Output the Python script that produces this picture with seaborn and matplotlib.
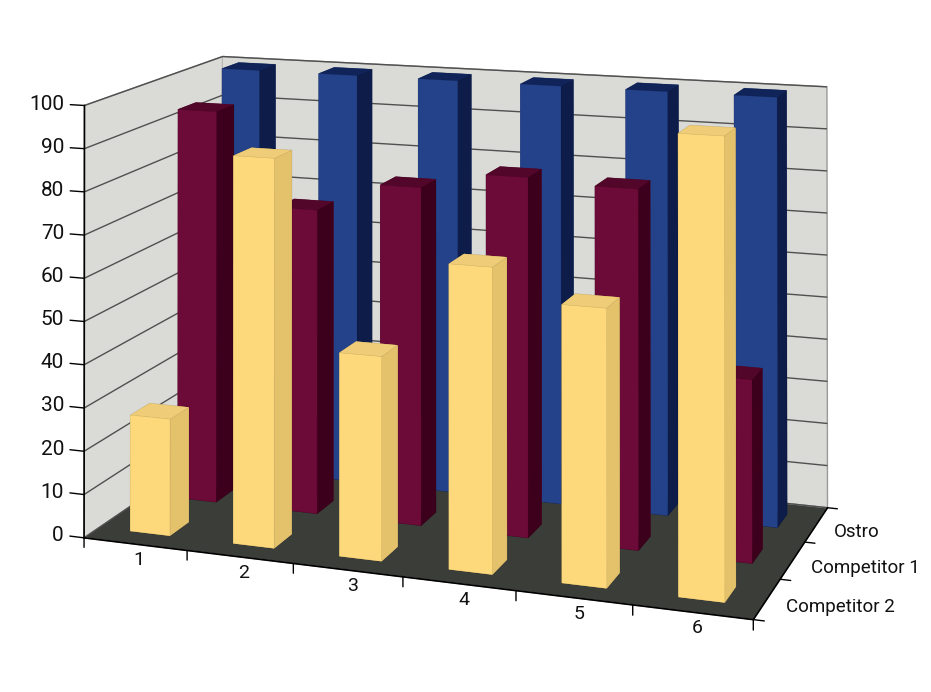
import numpy as np
import matplotlib
matplotlib.use("Agg")
import matplotlib.pyplot as plt
import seaborn as sns

# ---- data ----
categories = ["1", "2", "3", "4", "5", "6"]
series = ["Competitor 2", "Competitor 1", "Ostro"]   # front -> back
competitor2 = [27, 89, 46, 68, 61, 100]
competitor1 = [94, 72, 79, 83, 82, 41]
ostro = [100, 100, 100, 100, 100, 100]
z_ticks = [0, 10, 20, 30, 40, 50, 60, 70, 80, 90, 100]

sns.set_theme(style="white")
plt.rcParams["font.family"] = ["Roboto", "DejaVu Sans"]

W, H = 931, 692

# ---- camera calibration (layout only): box corners / tick points -> image pixels ----
cam_world = np.array([
    [0, 0, 0], [0, 0, 100], [0, 3, 100], [0, 3, 0],
    [6, 3, 100], [6, 3, 0], [6, 0, 0],
    [1, 0, 0], [2, 0, 0], [3, 0, 0], [4, 0, 0], [5, 0, 0],
    [6, 1, 0], [6, 2, 0],
], dtype=float)
cam_pixels = np.array([
    [85, 532], [85, 105], [222, 55], [222, 449],
    [827, 89], [827, 503], [753, 623],
    [188, 550], [293, 565], [403, 579], [514, 590], [631, 607],
    [782, 578], [806, 540],
], dtype=float)
# painter's-order depth: back (+y) and left (-x) farther, floor farther than top
sort_depth = np.array([-0.5, 1.0, -0.01, 0.0])


def solve_camera(world, pix):
    sw = np.array([6.0, 3.0, 100.0])
    wn = world / sw
    u = (pix[:, 0] - W / 2) / (W / 2)
    v = ((H - pix[:, 1]) - H / 2) / (W / 2)
    rows = []
    for (X, Y, Z), uu, vv in zip(wn, u, v):
        rows.append([X, Y, Z, 1, 0, 0, 0, 0, -uu * X, -uu * Y, -uu * Z, -uu])
        rows.append([0, 0, 0, 0, X, Y, Z, 1, -vv * X, -vv * Y, -vv * Z, -vv])
    _, _, vt = np.linalg.svd(np.array(rows))
    Pn = vt[-1].reshape(3, 4)
    Pn = Pn @ np.diag([1 / sw[0], 1 / sw[1], 1 / sw[2], 1.0])
    T = np.array([[W / 2, 0, W / 2], [0, W / 2, H / 2], [0, 0, 1.0]])
    return T @ Pn


P_pix = solve_camera(cam_world, cam_pixels)
centre = np.array([3.0, 1.5, 50.0, 1.0])

# face colours: bottom, top, front(-y), back(+y), left(-x), right(+x)
face_cols = {
    "Competitor 2": ["#F2D07A", "#EFCD78", "#FDD97C", "#FDD97C", "#FDD97C", "#E4C26C"],
    "Competitor 1": ["#4A0024", "#52062A", "#6C0A38", "#6C0A38", "#6C0A38", "#3C001C"],
    "Ostro":        ["#10204F", "#11245A", "#24428A", "#24428A", "#24428A", "#0D1C48"],
}
values = {"Competitor 2": competitor2, "Competitor 1": competitor1, "Ostro": ostro}

fig = plt.figure(figsize=(W / 100, H / 100), dpi=100)
ax = fig.add_axes([0, (H - W) / 2 / H, 1, W / H], projection="3d")
ax.set_proj_type("ortho")
ax.view_init(elev=20, azim=-72)

_orig_get_proj = ax.get_proj


def _calibrated_proj():
    _orig_get_proj()
    inv = ax.transData.inverted().get_matrix()
    Q = inv @ P_pix
    if Q[2] @ centre < 0:
        Q = -Q
    wbar = Q[2] @ centre
    d = sort_depth.copy()
    d[3] = -(d[:3] @ centre[:3])          # centre the depth around 0
    return np.vstack([Q[0], Q[1], d * wbar, Q[2]])


ax.get_proj = _calibrated_proj

bw, bd = 0.39, 0.4
xs, ys, dz, cols = [], [], [], []
for j, s in enumerate(series):
    for i, v in enumerate(values[s]):
        xs.append(i + 0.5 - bw / 2)
        ys.append(j + 0.5 - bd / 2)
        dz.append(v)
        cols.extend(face_cols[s])
n = len(xs)
ax.bar3d(xs, ys, np.zeros(n), np.full(n, bw), np.full(n, bd), dz,
         color=cols, shade=False, edgecolor=(0, 0, 0, 0.10), linewidth=0.4)


def fix_limits():
    try:
        ax.set_xlim(0, 6, view_margin=0)
        ax.set_ylim(0, 3, view_margin=0)
        ax.set_zlim(0, 100, view_margin=0)
    except TypeError:
        ax.set_xlim(0, 6)
        ax.set_ylim(0, 3)
        ax.set_zlim(0, 100)


fix_limits()

# axes ticks: z ticks drive the wall gridlines; tick marks/labels drawn below
ax.set_xticks([])
ax.set_yticks([])
ax.set_zticks(z_ticks)
ax.zaxis.set_tick_params(label1On=False, label2On=False)
ax.zaxis.set_ticks_position("lower")
for a in (ax.xaxis, ax.yaxis, ax.zaxis):
    a.label.set_visible(False)
    a.offsetText.set_visible(False)
    a._axinfo["tick"]["inward_factor"] = 0.0
    a._axinfo["tick"]["outward_factor"] = 0.0

tick_kw = dict(color="black", lw=1.0, clip_on=False)
for i in range(len(categories) + 1):
    ax.plot([i, i], [0, 0], [0, -2.2], **tick_kw)
for j in range(len(series) + 1):
    ax.plot([6, 6.09], [j, j], [0, 0], **tick_kw)
for t in z_ticks:
    ax.plot([0, -0.14], [0, 0], [t, t], **tick_kw)

fix_limits()

ax.xaxis.set_pane_color("#DADAD6")
ax.yaxis.set_pane_color("#DADAD6")
ax.zaxis.set_pane_color("#3B3D39")
for a in (ax.xaxis, ax.yaxis, ax.zaxis):
    a.pane.set_edgecolor("#9A9A9A")
    a.line.set_color("black")
ax.xaxis._axinfo["grid"]["color"] = (0, 0, 0, 0)
ax.yaxis._axinfo["grid"]["color"] = (0, 0, 0, 0)
ax.zaxis._axinfo["grid"]["color"] = "#505050"
ax.zaxis._axinfo["grid"]["linewidth"] = 1.0
ax.grid(True)
for c in ax.collections:
    c.set_clip_on(False)

# ---- labels: anchor points projected through the axes' own projection ----
fig.canvas.draw()
M = ax.get_proj()


def label(x, y, z, s, **kw):
    v = M @ np.array([x, y, z, 1.0])
    ax.text2D(v[0] / v[3], v[1] / v[3], s, transform=ax.transData,
              color="#111111", **kw)


for t in z_ticks:
    label(-0.2, 0, t, str(t), ha="right", va="center", fontsize=15)
for i, c in enumerate(categories):
    label(i + 0.54, 0, -1.4, c, ha="center", va="top", fontsize=14)
for j, s in enumerate(series):
    label(6.16, j + 0.5, -1.2, s, ha="left", va="center", fontsize=13.5)

fig.savefig("out.png", dpi=100)
